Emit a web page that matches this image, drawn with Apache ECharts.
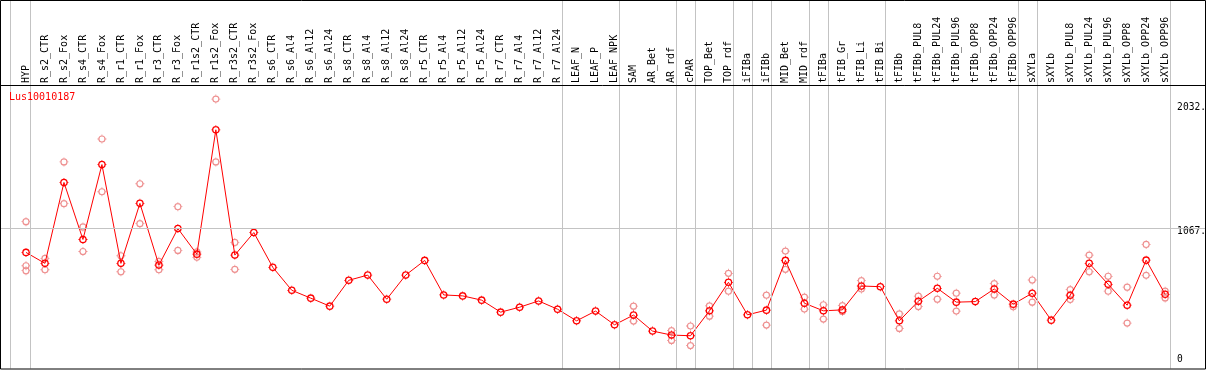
<!DOCTYPE html>
<html><head><meta charset="utf-8">
<script src="https://cdn.jsdelivr.net/npm/echarts@6.0.0/dist/echarts.min.js"></script>
<style>html,body{margin:0;padding:0;background:#fff}#c{width:1209px;height:370px}</style>
</head><body><div id="c"></div>
<script>
// ---------------- data ----------------
const categories = ['HYP','R_s2_CTR','R_s2_Fox','R_s4_CTR','R_s4_Fox','R_r1_CTR','R_r1_Fox','R_r3_CTR','R_r3_Fox',
  'R_r1s2_CTR','R_r1s2_Fox','R_r3s2_CTR','R_r3s2_Fox','R_s6_CTR','R_s6_Al4','R_s6_Al12','R_s6_Al24',
  'R_s8_CTR','R_s8_Al4','R_s8_Al12','R_s8_Al24','R_r5_CTR','R_r5_Al4','R_r5_Al12','R_r5_Al24',
  'R_r7_CTR','R_r7_Al4','R_r7_Al12','R_r7_Al24','LEAF_N','LEAF_P','LEAF_NPK','SAM','AR_Bet','AR_rdf',
  'cPAR','TOP_Bet','TOP_rdf','iFIBa','iFIBb','MID_Bet','MID_rdf','tFIBa','tFIB_Gr','tFIB_Li','tFIB_Bi',
  'tFIBb','tFIBb_PUL8','tFIBb_PUL24','tFIBb_PUL96','tFIBb_OPP8','tFIBb_OPP24','tFIBb_OPP96','sXYLa',
  'sXYLb','sXYLb_PUL8','sXYLb_PUL24','sXYLb_PUL96','sXYLb_OPP8','sXYLb_OPP24','sXYLb_OPP96'];

const meanValues = [882,800,1407,979,1541,800,1250,787,1061,869,1802,862,1031,770,598,539,479,
  673,712,531,712,822,563,556,524,434,471,518,456,369,442,339,412,292,262,
  257,444,658,414,449,822,501,444,451,630,625,
  369,516,613,509,513,608,494,576,
  374,561,800,643,486,824,568];

const replicates = [
  ['HYP',1113],['HYP',782],['HYP',745],
  ['R_s2_CTR',837],['R_s2_CTR',752],
  ['R_s2_Fox',1561],['R_s2_Fox',1248],
  ['R_s4_CTR',1073],['R_s4_CTR',889],
  ['R_s4_Fox',1733],['R_s4_Fox',1337],
  ['R_r1_CTR',857],['R_r1_CTR',737],
  ['R_r1_Fox',1397],['R_r1_Fox',1098],
  ['R_r3_CTR',815],['R_r3_CTR',752],
  ['R_r3_Fox',1225],['R_r3_Fox',897],
  ['R_r1s2_CTR',886],['R_r1s2_CTR',845],
  ['R_r1s2_Fox',2032],['R_r1s2_Fox',1561],
  ['R_r3s2_CTR',957],['R_r3s2_CTR',755],
  ['SAM',479],['SAM',367],
  ['AR_rdf',295],['AR_rdf',222],
  ['cPAR',330],['cPAR',183],
  ['TOP_Bet',481],['TOP_Bet',404],
  ['TOP_rdf',725],['TOP_rdf',591],
  ['iFIBb',561],['iFIBb',337],
  ['MID_Bet',892],['MID_Bet',755],
  ['MID_rdf',546],['MID_rdf',457],
  ['tFIBa',489],['tFIBa',382],
  ['tFIB_Gr',483],['tFIB_Gr',439],
  ['tFIB_Li',670],['tFIB_Li',608],
  ['tFIBb',421],['tFIBb',312],
  ['tFIBb_PUL8',554],['tFIBb_PUL8',476],
  ['tFIBb_PUL24',703],['tFIBb_PUL24',531],
  ['tFIBb_PUL96',576],['tFIBb_PUL96',442],
  ['tFIBb_OPP24',648],['tFIBb_OPP24',563],
  ['tFIBb_OPP96',474],
  ['sXYLa',675],['sXYLa',509],
  ['sXYLb_PUL8',603],['sXYLb_PUL8',528],
  ['sXYLb_PUL24',862],['sXYLb_PUL24',737],
  ['sXYLb_PUL96',703],['sXYLb_PUL96',591],
  ['sXYLb_OPP8',621],['sXYLb_OPP8',352],
  ['sXYLb_OPP24',942],['sXYLb_OPP24',710],
  ['sXYLb_OPP96',591],['sXYLb_OPP96',541]
];

const groupEnds = ['HYP','R_r7_Al24','LEAF_NPK','AR_rdf','cPAR','TOP_rdf','iFIBa','iFIBb','MID_rdf',
  'tFIBa','tFIB_Bi','tFIBb_OPP96','sXYLa','sXYLb_OPP96'];
const yTickValues = [2032, 1067];
const yTickLabels = ['2032.', '1067.'];
const yZeroValue = 0;
const yZeroLabel = '0';
const refLineValue = 1067;
const geneName = 'Lus10010187';

// ---------------- layout ----------------
const SLOT = 19, FIRST_X = 26;
const BOX_R = 1205, BOX_B = 368.5;
const HEADER_Y = 85;
const REF_PX = 228.5, UNITS_PER_PX = 7.463;
const valAt = px => refLineValue + (REF_PX - px) * UNITS_PER_PX;
const zeroPx = REF_PX + refLineValue / UNITS_PER_PX;
const gridAleft = FIRST_X - SLOT / 2;
const gridAwidth = SLOT * categories.length;
const yAmax = valAt(HEADER_Y);
const gBleft = 1, gBwidth = BOX_R - 1, gBtop = 0, gBheight = BOX_B;
const xBmin = -(FIRST_X - gBleft) / SLOT;
const xBmax = xBmin + gBwidth / SLOT;

const RED = '#ff0000', PALE = '#ee9090', SEP = '#c3c3c3';
const FONT = 'DejaVu Sans Mono';

// ring with four small ticks (box 0..18)
function ringPath(ro, ri, tw, tin) {
  const c = 9, h = tw / 2;
  return 'path://' +
    `M${c-ro},${c} A${ro},${ro} 0 1,1 ${c+ro},${c} A${ro},${ro} 0 1,1 ${c-ro},${c} Z ` +
    `M${c-ri},${c} A${ri},${ri} 0 1,0 ${c+ri},${c} A${ri},${ri} 0 1,0 ${c-ri},${c} Z ` +
    `M${c-h},0 L${c+h},0 L${c+h},${c-tin} L${c-h},${c-tin} Z ` +
    `M${c-h},${18-(c-tin)} L${c+h},${18-(c-tin)} L${c+h},18 L${c-h},18 Z ` +
    `M0,${c-h} L${c-tin},${c-h} L${c-tin},${c+h} L0,${c+h} Z ` +
    `M${18-(c-tin)},${c-h} L18,${c-h} L18,${c+h} L${18-(c-tin)},${c+h} Z`;
}
const darkSymbol = ringPath(7.6, 5.0, 1.6, 7.2);
const paleSymbol = ringPath(7.2, 4.9, 1.6, 6.8);

const sepMarks = [{xAxis: -1 + 3.5 / SLOT}].concat(
  groupEnds.map(n => ({xAxis: categories.indexOf(n) + 4.5 / SLOT})));

const chart = echarts.init(document.getElementById('c'), null, {renderer: 'canvas'});
chart.setOption({
  animation: false,
  backgroundColor: '#fff',
  title: {
    text: geneName, left: 9, top: 92, padding: 0,
    textStyle: {color: RED, fontSize: 10, fontWeight: 'normal', fontFamily: FONT}
  },
  grid: [
    {left: gridAleft, top: HEADER_Y, width: gridAwidth, height: zeroPx - HEADER_Y},
    {left: gBleft, top: gBtop, width: gBwidth, height: gBheight}
  ],
  xAxis: [
    {type: 'category', gridIndex: 0, data: categories, position: 'top', boundaryGap: true,
     axisLine: {show: false}, axisTick: {show: false}, splitLine: {show: false},
     axisLabel: {rotate: 90, interval: 0, margin: 2, color: '#000', fontFamily: FONT, fontSize: 10}},
    {type: 'value', gridIndex: 1, min: xBmin, max: xBmax, show: false}
  ],
  yAxis: [
    {type: 'value', gridIndex: 0, position: 'right', min: 0, max: yAmax,
     axisLine: {show: false}, axisTick: {show: false}, splitLine: {show: false},
     axisLabel: {customValues: yTickValues, margin: 2.5, verticalAlign: 'top', align: 'left',
       color: '#000', fontFamily: FONT, fontSize: 9.6,
       formatter: v => { const i = yTickValues.indexOf(v); return i === 0 ? '{t|' + yTickLabels[i] + '}' : '{m|' + yTickLabels[i] + '}'; },
       rich: {t: {padding: [3, 0, 0, 0], fontFamily: FONT, fontSize: 9.6, color: '#000'},
              m: {padding: [-1, 0, 0, 0], fontFamily: FONT, fontSize: 9.6, color: '#000'}}}},
    {type: 'value', gridIndex: 0, position: 'right', min: 0, max: yAmax,
     axisLine: {show: false}, axisTick: {show: false}, splitLine: {show: false},
     axisLabel: {customValues: [yZeroValue], margin: 2.5, verticalAlign: 'bottom', align: 'left',
       formatter: () => '{z|' + yZeroLabel + '}',
       rich: {z: {padding: [0, 0, 6, 0], fontFamily: FONT, fontSize: 9.6, color: '#000'}}}},
    {type: 'value', gridIndex: 1, min: valAt(gBtop + gBheight), max: valAt(gBtop), show: false}
  ],
  series: [
    {type: 'scatter', xAxisIndex: 1, yAxisIndex: 2, data: [], silent: true, z: 1,
     markLine: {silent: true, symbol: 'none', label: {show: false},
       lineStyle: {color: SEP, width: 1, type: 'solid'},
       emphasis: {disabled: true},
       data: sepMarks.concat([{yAxis: refLineValue}])}},
    {type: 'scatter', xAxisIndex: 0, yAxisIndex: 0, data: replicates, z: 3,
     symbol: paleSymbol, symbolSize: 9, itemStyle: {color: PALE, opacity: 1}},
    {type: 'line', xAxisIndex: 0, yAxisIndex: 0, data: meanValues, z: 4,
     symbol: darkSymbol, symbolSize: 9, showAllSymbol: true,
     lineStyle: {color: RED, width: 1}, itemStyle: {color: RED}}
  ],
  graphic: [
    {type: 'rect', shape: {x: 0.5, y: 0.5, width: BOX_R, height: BOX_B}, silent: true, z: 100,
     style: {fill: null, stroke: '#000', lineWidth: 1}},
    {type: 'line', shape: {x1: 0, y1: HEADER_Y + 0.5, x2: BOX_R + 0.5, y2: HEADER_Y + 0.5}, silent: true, z: 100,
     style: {stroke: '#000', lineWidth: 1}}
  ]
});
</script></body></html>
